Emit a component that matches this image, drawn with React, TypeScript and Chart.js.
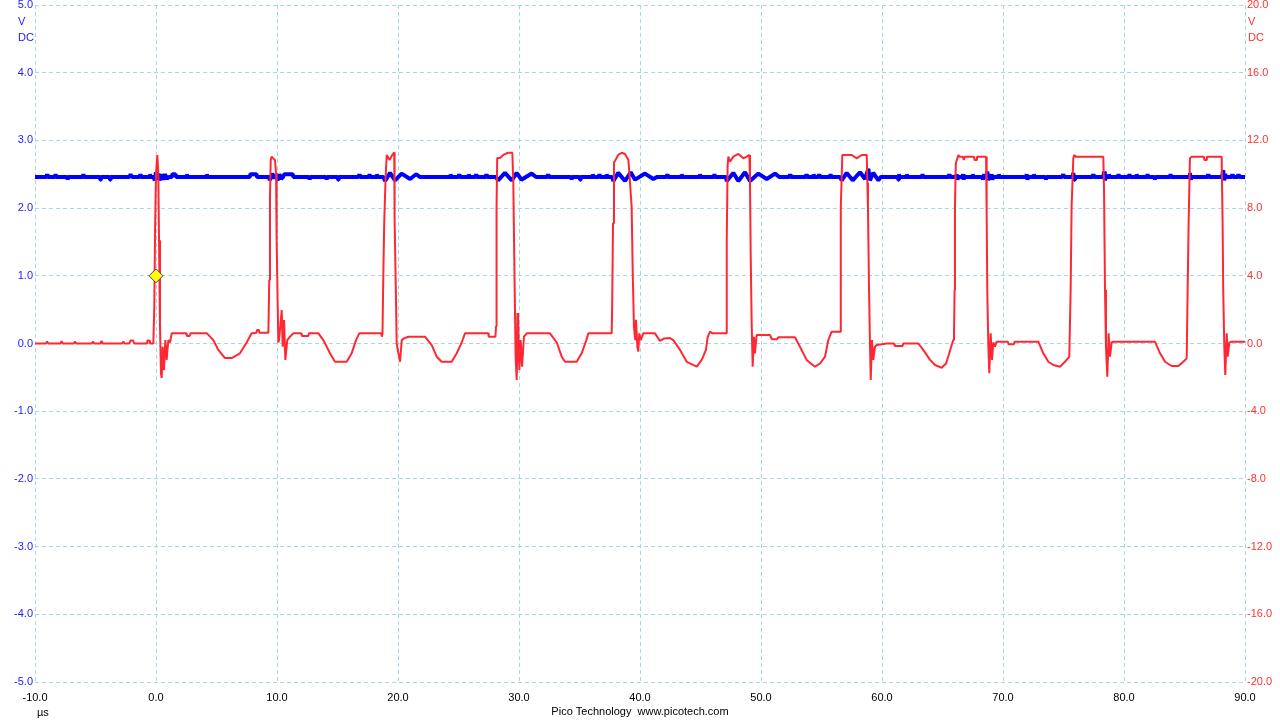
import React, { useEffect, useRef } from "react";
import { Chart, registerables } from "chart.js";

Chart.register(...registerables);

type P = [number, number];

// ---- axis ranges / tick labels ----
const X_MIN = -10;
const X_MAX = 90;
const X_STEP = 10;
const LEFT_MIN = -5;
const LEFT_MAX = 5;
const LEFT_STEP = 1;
const RIGHT_MIN = -20;
const RIGHT_MAX = 20;
const RIGHT_STEP = 4;
const UNIT_X = "µs";
const UNIT_LEFT = ["V", "DC"];
const UNIT_RIGHT = ["V", "DC"];
const FOOTER = "Pico Technology  www.picotech.com";

// ---- trigger marker (time µs, channel A volts) ----
const triggerPoint: P = [0, 1.0];

// ---- channel B (red, right axis, volts) ----
const redPreTrigger: P[] = [
  [-10, 0], [-9.1, 0], [-9.0, 0.12], [-8.9, 0], [-7.9, 0], [-7.8, 0.14], [-7.7, 0],
  [-6.8, 0], [-6.7, 0.12], [-6.6, 0], [-5.3, 0], [-5.2, 0.12], [-5.1, 0],
  [-4.6, 0], [-4.5, 0.15], [-4.4, 0], [-2.8, 0], [-2.7, 0.12], [-2.6, 0],
  [-2.2, 0], [-2.1, 0.18], [-1.9, 0.18], [-1.8, 0], [-0.75, 0], [-0.7, 0.18],
  [-0.55, 0.18], [-0.5, 0], [-0.22, 0],
];
const redPeriod1: P[] = [
  [-0.14, 2.17], [-0.08, 6.51], [0.0, 10.06], [0.11, 11.14], [0.19, 10.06], [0.25, 6.1],
  [0.33, 1.0], [0.41, -1.76], [0.47, -2.04], [0.55, -0.19], [0.66, -1.57], [0.77, 0.2],
  [0.88, -0.97], [1.02, 0.2], [1.16, 0.06], [1.3, 0.6],
  [2.5, 0.6], [2.55, 0.45], [2.8, 0.45], [2.85, 0.6],
  [4.21, 0.6], [4.74, 0.2], [5.15, -0.38], [5.7, -0.86], [6.26, -0.86], [6.94, -0.58],
  [7.49, 0.06], [7.91, 0.6], [8.3, 0.64], [8.35, 0.8], [8.5, 0.8], [8.55, 0.64], [9.29, 0.64],
];
const redPeriod2: P[] = [
  [9.36, 3.75], [9.42, 8.67], [9.48, 10.84], [9.56, 11.04], [9.69, 10.94], [9.83, 10.84],
  [9.92, 10.07], [9.97, 6.1], [10.06, 2.2], [10.11, 0.06], [10.17, 0.2], [10.39, 1.98],
  [10.47, -0.19], [10.58, 1.39], [10.69, -0.97], [10.85, 0.2], [11.07, 0.4], [11.35, 0.6],
  [12.0, 0.6], [12.05, 0.45], [12.6, 0.45], [12.65, 0.6],
  [13.42, 0.6], [13.83, 0.2], [14.38, -0.58], [14.79, -1.08], [15.76, -1.08], [16.17, -0.58],
  [16.53, 0.2], [16.8, 0.6], [18.62, 0.6], [18.66, 0.4], [18.72, 0.6],
];
const redPeriod3: P[] = [
  [18.78, 3.75], [18.86, 7.1], [18.98, 9.9], [19.07, 11.14], [19.3, 10.84], [19.5, 11.1],
  [19.6, 11.2], [19.69, 11.3], [19.72, 7.3], [19.83, 2.77], [19.89, 0.0], [20.03, -0.57],
  [20.17, -1.08], [20.31, 0.2], [20.5, 0.3], [20.85, 0.4],
  [22.23, 0.4], [22.79, -0.09], [23.2, -0.78], [23.61, -1.08], [24.44, -1.08], [24.85, -0.58],
  [25.26, 0.06], [25.54, 0.6], [27.46, 0.6], [27.5, 0.4], [28.05, 0.4], [28.1, 1.0],
];
const redPeriod4: P[] = [
  [28.13, 3.2], [28.16, 8.1], [28.2, 10.96], [28.43, 10.96], [28.7, 11.14], [29.09, 11.27],
  [29.45, 11.27], [29.53, 9.5], [29.59, 6.1], [29.67, 1.8], [29.72, -0.78], [29.81, -2.16],
  [29.92, 1.8], [30.03, -1.57], [30.14, 0.2], [30.25, -1.37], [30.41, 0.4], [30.64, 0.6],
  [32.56, 0.6], [33.12, 0.06], [33.53, -0.78], [33.8, -1.08], [34.77, -1.08], [35.18, -0.58],
  [35.54, 0.15], [35.73, 0.6], [37.66, 0.6],
];
const redPeriod5: P[] = [
  [37.7, 2.2], [37.77, 7.1], [37.85, 10.74], [37.9, 10.74], [38.2, 11.14], [38.49, 11.27],
  [38.76, 11.2], [39.04, 10.84], [39.12, 10.07], [39.31, 8.08], [39.4, 4.15], [39.5, 1.0],
  [39.61, 0.2], [39.67, 1.4], [39.78, -0.19], [39.86, -0.48], [39.94, 0.6], [40.06, 0.2],
  [40.27, 0.6],
  [41.24, 0.6], [41.65, 0.15], [42.0, 0.3], [42.48, 0.32], [42.75, 0.2], [43.31, -0.38],
  [43.86, -1.08], [44.69, -1.37], [45.1, -0.97], [45.45, -0.38], [45.6, 0.4], [45.79, 0.7],
  [46.0, 0.6], [47.11, 0.6],
];
const redPeriod6: P[] = [
  [47.17, 6.1], [47.24, 10.45], [47.3, 11.04], [47.44, 10.74], [47.71, 11.04], [48.13, 11.2],
  [48.54, 10.94], [48.82, 11.04], [49.04, 11.14], [49.09, 9.47], [49.15, 5.13], [49.23, 1.19],
  [49.31, -1.37], [49.42, 0.4], [49.5, -0.58], [49.64, 0.5],
  [50.74, 0.5], [50.9, 0.25], [51.3, 0.25], [51.45, 0.37], [52.81, 0.37], [53.22, -0.19],
  [53.77, -0.97], [54.46, -1.37], [54.88, -1.18], [55.29, -0.78], [55.56, 0.2], [55.84, 0.7],
  [56.53, 0.7],
];
const redPeriod7: P[] = [
  [56.58, 2.57], [56.61, 8.08], [56.72, 11.14], [57.08, 11.14], [57.5, 11.14], [57.91, 10.94],
  [58.32, 11.14], [58.74, 11.14], [58.79, 9.5], [58.84, 8.08], [58.93, 3.16], [59.01, -0.19],
  [59.07, -2.16], [59.17, 0.2], [59.28, -0.97], [59.42, -0.19], [59.56, -0.09],
  [60.4, 0.0], [61.0, 0.0], [61.05, -0.15], [61.7, -0.15], [61.75, 0.0], [63.0, 0.0],
  [63.41, -0.38], [63.97, -0.97], [64.38, -1.27], [64.93, -1.43], [65.29, -1.18],
  [65.56, -0.58], [65.76, -0.09], [65.89, 0.2],
];
const redPeriod8: P[] = [
  [65.95, 0.6], [66.0, 3.16], [66.03, 8.08], [66.1, 10.65], [66.31, 11.14], [66.4, 11.04],
  [66.7, 11.04], [66.75, 10.84], [66.85, 11.04], [67.6, 11.04], [67.65, 10.84], [67.8, 10.84],
  [67.85, 11.04], [68.6, 11.04], [68.65, 7.69], [68.7, 3.16], [68.79, -0.19], [68.87, -1.76],
  [68.98, 0.6], [69.09, -0.97], [69.2, 0.06], [69.34, -0.19], [69.48, 0.11],
  [70.4, 0.11], [70.45, -0.05], [70.9, -0.05], [70.95, 0.11],
  [72.92, 0.11], [73.33, -0.58], [73.75, -1.08], [74.16, -1.27], [74.71, -1.37],
  [75.12, -1.08], [75.48, -0.78],
];
const redPeriod9: P[] = [
  [75.59, 3.16], [75.67, 8.08], [75.81, 10.94], [75.89, 11.14], [76.0, 11.04], [78.29, 11.04],
  [78.35, 9.07], [78.43, 3.16], [78.51, -0.19], [78.62, -1.96], [78.73, 0.6], [78.84, -0.78],
  [78.98, 0.06], [79.12, 0.11],
  [82.56, 0.11], [82.98, -0.58], [83.39, -1.08], [83.94, -1.33], [84.49, -1.33],
  [84.9, -1.08], [85.18, -0.88],
];
const redPeriod10: P[] = [
  [85.26, 3.16], [85.34, 7.1], [85.45, 10.94], [85.59, 11.04], [86.6, 11.04], [86.65, 10.84],
  [86.8, 10.84], [86.85, 11.04], [88.07, 11.04], [88.15, 7.1], [88.2, 3.16], [88.29, -0.19],
  [88.37, -1.86], [88.49, 0.6], [88.57, -0.78], [88.71, 0.06], [88.9, 0.11], [90, 0.11],
];

// ---- channel A (blue, left axis, volts) ----
const bluePreTrigger: P[] = [
  [-10, 2.46], [-9.05, 2.46], [-9.0, 2.5], [-8.95, 2.46], [-8.35, 2.46], [-8.3, 2.5],
  [-8.25, 2.46], [-7.35, 2.46], [-7.3, 2.42], [-7.25, 2.46], [-6.05, 2.46], [-6.0, 2.5],
  [-5.95, 2.46], [-4.65, 2.46], [-4.6, 2.42], [-4.55, 2.46], [-3.85, 2.46], [-3.8, 2.42],
  [-3.75, 2.46], [-2.2, 2.46], [-2.1, 2.5], [-2.0, 2.46], [-1.35, 2.46], [-1.3, 2.5],
  [-1.25, 2.46], [-0.55, 2.46], [-0.5, 2.5], [-0.45, 2.46],
];
const bluePeriods1to2: P[] = [
  [-0.2, 2.46], [-0.1, 2.41], [0.0, 2.53], [0.1, 2.42], [0.2, 2.51], [0.3, 2.41], [0.45, 2.5],
  [0.6, 2.42], [0.75, 2.5], [0.9, 2.43], [1.05, 2.46], [1.3, 2.46], [1.35, 2.5], [1.6, 2.5],
  [1.65, 2.46], [2.5, 2.46], [2.55, 2.5], [2.6, 2.46], [4.15, 2.46], [4.2, 2.5],
  [4.25, 2.46], [7.75, 2.46], [7.8, 2.5], [8.3, 2.5], [8.35, 2.46], [9.35, 2.46],
  [9.4, 2.41], [9.5, 2.46], [9.6, 2.51], [9.75, 2.44], [9.9, 2.5], [10.05, 2.41],
  [10.2, 2.5], [10.35, 2.43], [10.5, 2.46], [10.6, 2.5], [11.3, 2.5], [11.35, 2.46],
  [12.65, 2.46], [12.7, 2.42], [12.75, 2.46], [14.05, 2.46], [14.1, 2.42], [14.15, 2.46],
  [15.0, 2.46], [15.05, 2.42], [15.1, 2.46], [16.75, 2.46], [16.8, 2.5], [16.85, 2.46],
  [17.6, 2.46], [17.65, 2.5], [17.7, 2.46], [18.2, 2.46], [18.25, 2.5], [18.3, 2.46],
];
const bluePeriods3to5: P[] = [
  [18.8, 2.46], [18.93, 2.4], [19.34, 2.52], [19.75, 2.41], [20.3, 2.51], [21.0, 2.43],
  [21.5, 2.5], [21.8, 2.46], [24.3, 2.46], [24.35, 2.5], [24.4, 2.46], [25.0, 2.46],
  [25.05, 2.5], [25.1, 2.46], [25.8, 2.46], [25.85, 2.5], [25.9, 2.46], [26.4, 2.46],
  [26.45, 2.5], [26.5, 2.46], [27.25, 2.46], [27.3, 2.5], [27.35, 2.46],
  [28.1, 2.46], [28.27, 2.41], [28.84, 2.52], [29.4, 2.41], [29.81, 2.52], [30.2, 2.42],
  [31.05, 2.51], [31.4, 2.46], [32.35, 2.46], [32.4, 2.5], [32.45, 2.46], [34.3, 2.46],
  [34.35, 2.42], [34.4, 2.46], [35.0, 2.46], [35.05, 2.42], [35.1, 2.46], [36.05, 2.46],
  [36.1, 2.5], [36.15, 2.46], [36.6, 2.46], [36.65, 2.5], [36.7, 2.46], [37.2, 2.46],
  [37.25, 2.5], [37.3, 2.46],
  [37.7, 2.46], [37.8, 2.4], [38.2, 2.52], [38.76, 2.4], [39.23, 2.53], [39.59, 2.42],
  [40.41, 2.51], [41.1, 2.43], [41.4, 2.46],
];
const bluePeriods6to7: P[] = [
  [42.2, 2.46], [42.25, 2.5], [42.3, 2.46], [43.4, 2.46], [43.45, 2.5], [43.5, 2.46],
  [44.9, 2.46], [44.95, 2.5], [45.0, 2.46], [46.1, 2.46], [46.15, 2.5], [46.2, 2.46],
  [47.1, 2.46], [47.17, 2.4], [47.71, 2.52], [48.13, 2.4], [48.68, 2.53], [49.09, 2.4],
  [49.78, 2.51], [50.47, 2.43], [51.16, 2.51], [51.5, 2.46], [52.35, 2.46], [52.4, 2.5],
  [52.45, 2.46], [53.7, 2.46], [53.75, 2.5], [53.8, 2.46], [54.3, 2.46], [54.35, 2.5],
  [54.4, 2.46], [54.75, 2.46], [54.8, 2.5], [54.85, 2.46], [55.7, 2.46], [55.75, 2.5],
  [55.8, 2.46], [56.55, 2.46], [56.67, 2.41], [57.08, 2.52], [57.58, 2.41], [58.18, 2.53],
  [58.6, 2.43], [58.87, 2.58], [59.0, 2.41], [59.28, 2.52], [59.7, 2.41], [59.9, 2.46],
  [61.3, 2.46], [61.35, 2.42], [61.4, 2.5], [61.45, 2.46], [62.0, 2.46], [62.05, 2.5],
  [62.1, 2.46], [63.3, 2.46], [63.35, 2.5], [63.4, 2.46], [65.5, 2.46], [65.55, 2.5],
  [65.6, 2.46],
];
const bluePeriods8to10: P[] = [
  [66.1, 2.46], [66.17, 2.5], [66.24, 2.42], [66.3, 2.46], [66.65, 2.46], [66.7, 2.5],
  [66.75, 2.42], [66.8, 2.46], [67.45, 2.46], [67.5, 2.5], [67.55, 2.46], [68.3, 2.46],
  [68.35, 2.42], [68.45, 2.5], [68.5, 2.46], [68.65, 2.46], [68.7, 2.54], [68.78, 2.41],
  [68.85, 2.46], [69.0, 2.46], [69.06, 2.5], [69.12, 2.42], [69.2, 2.46], [69.6, 2.46],
  [69.65, 2.5], [69.7, 2.46], [71.9, 2.46], [71.96, 2.5], [72.02, 2.42], [72.08, 2.46],
  [72.5, 2.46], [72.55, 2.5], [72.6, 2.46], [73.5, 2.46], [73.55, 2.42], [73.6, 2.46],
  [74.9, 2.46], [74.98, 2.5], [75.05, 2.46], [75.75, 2.46], [75.81, 2.52], [75.88, 2.42],
  [75.95, 2.46], [77.4, 2.46], [77.45, 2.5], [77.5, 2.46], [78.3, 2.46], [78.35, 2.54],
  [78.42, 2.41], [78.5, 2.46], [78.7, 2.46], [78.75, 2.5], [78.8, 2.46], [79.5, 2.46],
  [79.55, 2.5], [79.6, 2.46], [80.4, 2.46], [80.45, 2.5], [80.5, 2.46], [81.0, 2.46],
  [81.05, 2.5], [81.1, 2.46], [81.9, 2.46], [81.95, 2.5], [82.0, 2.46], [82.5, 2.46],
  [82.55, 2.42], [82.6, 2.46], [83.8, 2.46], [83.85, 2.5], [83.9, 2.46], [85.4, 2.46],
  [85.45, 2.52], [85.52, 2.42], [85.6, 2.46], [86.9, 2.46], [86.95, 2.5], [87.0, 2.46],
  [88.1, 2.46], [88.2, 2.56], [88.28, 2.41], [88.36, 2.5], [88.45, 2.46], [88.9, 2.46],
  [88.95, 2.5], [89.0, 2.46], [89.4, 2.46], [89.45, 2.5], [89.5, 2.46], [90, 2.46],
];

// ---- styling ----
const RED = "#ff2832";
const BLUE = "#0000ff";
const BLUE_TEXT = "#1a1aff";
const RED_TEXT = "#ff3030";
const GRID = "#a9d6e3";
const FONT_FAMILY = '"Liberation Sans", Arial, sans-serif';

const toXY = (arr: P[]) => arr.map(([x, y]) => ({ x, y }));

export default function App() {
  const canvasRef = useRef<HTMLCanvasElement | null>(null);

  useEffect(() => {
    const canvas = canvasRef.current;
    if (!canvas) return;

    const red = [
      ...redPreTrigger, ...redPeriod1, ...redPeriod2, ...redPeriod3, ...redPeriod4,
      ...redPeriod5, ...redPeriod6, ...redPeriod7, ...redPeriod8, ...redPeriod9, ...redPeriod10,
    ];
    const blue = [
      ...bluePreTrigger, ...bluePeriods1to2, ...bluePeriods3to5, ...bluePeriods6to7, ...bluePeriods8to10,
    ];

    const textPlugin = {
      id: "picoText",
      afterDraw(chart: any) {
        const { ctx, chartArea } = chart;
        ctx.save();
        ctx.font = `11px ${FONT_FAMILY}`;
        ctx.textBaseline = "middle";
        ctx.textAlign = "left";
        ctx.fillStyle = BLUE_TEXT;
        ctx.fillText(UNIT_LEFT[0], chartArea.left - 17, chartArea.top + 17);
        ctx.fillText(UNIT_LEFT[1], chartArea.left - 17, chartArea.top + 33);
        ctx.fillStyle = RED_TEXT;
        ctx.fillText(UNIT_RIGHT[0], chartArea.right + 3, chartArea.top + 17);
        ctx.fillText(UNIT_RIGHT[1], chartArea.right + 3, chartArea.top + 33);
        ctx.fillStyle = "#000";
        ctx.fillText(UNIT_X, chartArea.left + 2, chartArea.bottom + 31);
        ctx.textAlign = "center";
        ctx.fillText(FOOTER, (chartArea.left + chartArea.right) / 2, chartArea.bottom + 30);
        ctx.restore();
      },
    };

    const tickFmt = (v: any) => Number(v).toFixed(1);
    const fixV = (s: any) => {
      s.width = 35;
    };

    const chart = new Chart(canvas, {
      type: "line",
      data: {
        datasets: [
          {
            label: "trigger",
            data: toXY([triggerPoint]),
            yAxisID: "y",
            showLine: false,
            pointStyle: "rectRot",
            pointRadius: 7,
            pointBackgroundColor: "#ffff00",
            pointBorderColor: "#3c3c8c",
            pointBorderWidth: 1,
          } as any,
          {
            label: "B",
            data: toXY(red),
            yAxisID: "yR",
            borderColor: RED,
            borderWidth: 2,
            borderJoinStyle: "bevel",
            pointRadius: 0,
            tension: 0,
          },
          {
            label: "A",
            data: toXY(blue),
            yAxisID: "y",
            borderColor: BLUE,
            borderWidth: 4,
            borderJoinStyle: "bevel",
            pointRadius: 0,
            tension: 0,
          },
        ],
      },
      options: {
        animation: false,
        responsive: true,
        maintainAspectRatio: false,
        layout: { padding: { top: 0, left: 0, right: 0, bottom: 0 } },
        plugins: {
          legend: { display: false },
          tooltip: { enabled: false },
        },
        events: [],
        scales: {
          x: {
            type: "linear",
            min: X_MIN,
            max: X_MAX,
            grid: { color: GRID, lineWidth: 1, drawTicks: false },
            border: { display: false, dash: [4, 3] },
            ticks: {
              stepSize: X_STEP,
              color: "#000",
              padding: 9,
              maxRotation: 0,
              font: { family: FONT_FAMILY, size: 11 },
              callback: tickFmt,
            },
            afterFit: (s: any) => {
              s.height = 38;
            },
          },
          y: {
            type: "linear",
            position: "left",
            min: LEFT_MIN,
            max: LEFT_MAX,
            grid: { color: GRID, lineWidth: 1, drawTicks: false },
            border: { display: false, dash: [4, 3] },
            ticks: {
              stepSize: LEFT_STEP,
              color: BLUE_TEXT,
              padding: 2,
              font: { family: FONT_FAMILY, size: 11, lineHeight: 0.4 },
              callback: tickFmt,
            },
            afterFit: fixV,
          },
          yR: {
            type: "linear",
            position: "right",
            min: RIGHT_MIN,
            max: RIGHT_MAX,
            grid: { display: false, drawTicks: false },
            border: { display: false },
            ticks: {
              stepSize: RIGHT_STEP,
              color: RED_TEXT,
              padding: 2,
              font: { family: FONT_FAMILY, size: 11, lineHeight: 0.4 },
              callback: tickFmt,
            },
            afterFit: fixV,
          },
        },
      },
      plugins: [textPlugin],
    });

    return () => chart.destroy();
  }, []);

  return (
    <div
      style={{
        position: "fixed",
        left: 0,
        top: -3,
        width: 1280,
        height: 723,
        background: "#fff",
      }}
    >
      <canvas ref={canvasRef} />
    </div>
  );
}
